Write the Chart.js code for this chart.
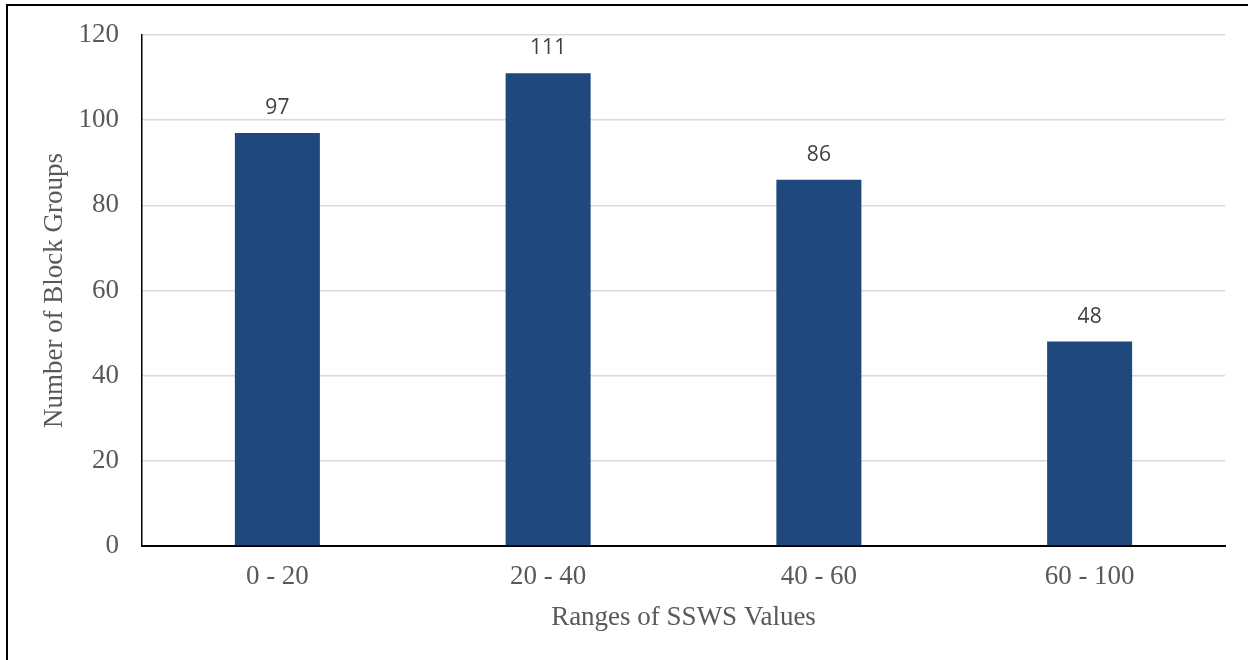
<!DOCTYPE html>
<html>
<head>
<meta charset="utf-8">
<script src="https://cdn.jsdelivr.net/npm/chart.js@4/dist/chart.umd.min.js"></script>
<style>
  html, body { margin: 0; padding: 0; background: #ffffff; }
  #wrap { width: 1253px; height: 660px; position: relative; }
</style>
</head>
<body>
<div id="wrap"><canvas id="chart" width="1253" height="660"></canvas></div>
<script>
// SSWS value ranges and how many block groups fall in each
const categories = ['0 - 20', '20 - 40', '40 - 60', '60 - 100'];
const blockGroups = [97, 111, 86, 48];
const yTicks = [0, 20, 40, 60, 80, 100, 120];

const serif = '"Liberation Serif", "Times New Roman", serif';
const sans = '"Open Sans", "Liberation Sans", sans-serif';

// Frame lines around the figure (left and top edges)
const framePlugin = {
  id: 'frame',
  beforeDraw(chart) {
    const ctx = chart.ctx;
    ctx.save();
    ctx.fillStyle = '#ffffff';
    ctx.fillRect(0, 0, chart.width, chart.height);
    ctx.strokeStyle = '#000000';
    ctx.lineWidth = 2;
    ctx.beginPath();
    ctx.moveTo(7, chart.height);
    ctx.lineTo(7, 5);
    ctx.lineTo(1248, 5);
    ctx.stroke();
    ctx.restore();
  }
};

// Value labels above each bar
const valueLabels = {
  id: 'valueLabels',
  afterDatasetsDraw(chart) {
    const ctx = chart.ctx;
    ctx.save();
    ctx.font = '21px ' + sans;
    ctx.fillStyle = '#404040';
    ctx.textAlign = 'center';
    ctx.textBaseline = 'middle';
    chart.data.datasets.forEach((ds, i) => {
      chart.getDatasetMeta(i).data.forEach((bar, j) => {
        ctx.fillText(String(ds.data[j]), bar.x, bar.y - 25);
      });
    });
    ctx.restore();
  }
};

new Chart(document.getElementById('chart'), {
  type: 'bar',
  data: {
    labels: categories,
    datasets: [{
      data: blockGroups,
      backgroundColor: '#1F497D',
      borderWidth: 0,
      barPercentage: 0.314,
      categoryPercentage: 1.0
    }]
  },
  options: {
    responsive: false,
    animation: false,
    devicePixelRatio: 1,
    layout: { padding: { left: 0, top: 35, right: 28, bottom: 0 } },
    plugins: {
      legend: { display: false },
      tooltip: { enabled: false }
    },
    scales: {
      x: {
        grid: { display: false, drawTicks: false },
        border: { display: true, color: '#000000', width: 2 },
        ticks: {
          color: '#595959',
          font: { family: serif, size: 27 },
          padding: 15,
          maxRotation: 0
        },
        title: {
          display: true,
          text: 'Ranges of SSWS Values',
          color: '#595959',
          font: { family: serif, size: 27 },
          padding: { top: 0, bottom: 26 }
        },
        afterFit(scale) { scale.height = 114; }
      },
      y: {
        min: 0,
        max: 120,
        afterBuildTicks(scale) { scale.ticks = yTicks.map(v => ({ value: v })); },
        grid: { color: '#d9d9d9', lineWidth: 1.5, drawTicks: false },
        border: { display: true, color: '#000000', width: 1.5 },
        ticks: {
          color: '#595959',
          font: { family: serif, size: 27 },
          padding: 23
        },
        title: {
          display: true,
          text: 'Number of Block Groups',
          color: '#595959',
          font: { family: serif, size: 27 },
          padding: { top: 39, bottom: 0 }
        },
        afterFit(scale) {
          scale.width = 142;
          scale.paddingTop = 0;
          scale.paddingBottom = 0;
        }
      }
    }
  },
  plugins: [framePlugin, valueLabels]
});
</script>
</body>
</html>
